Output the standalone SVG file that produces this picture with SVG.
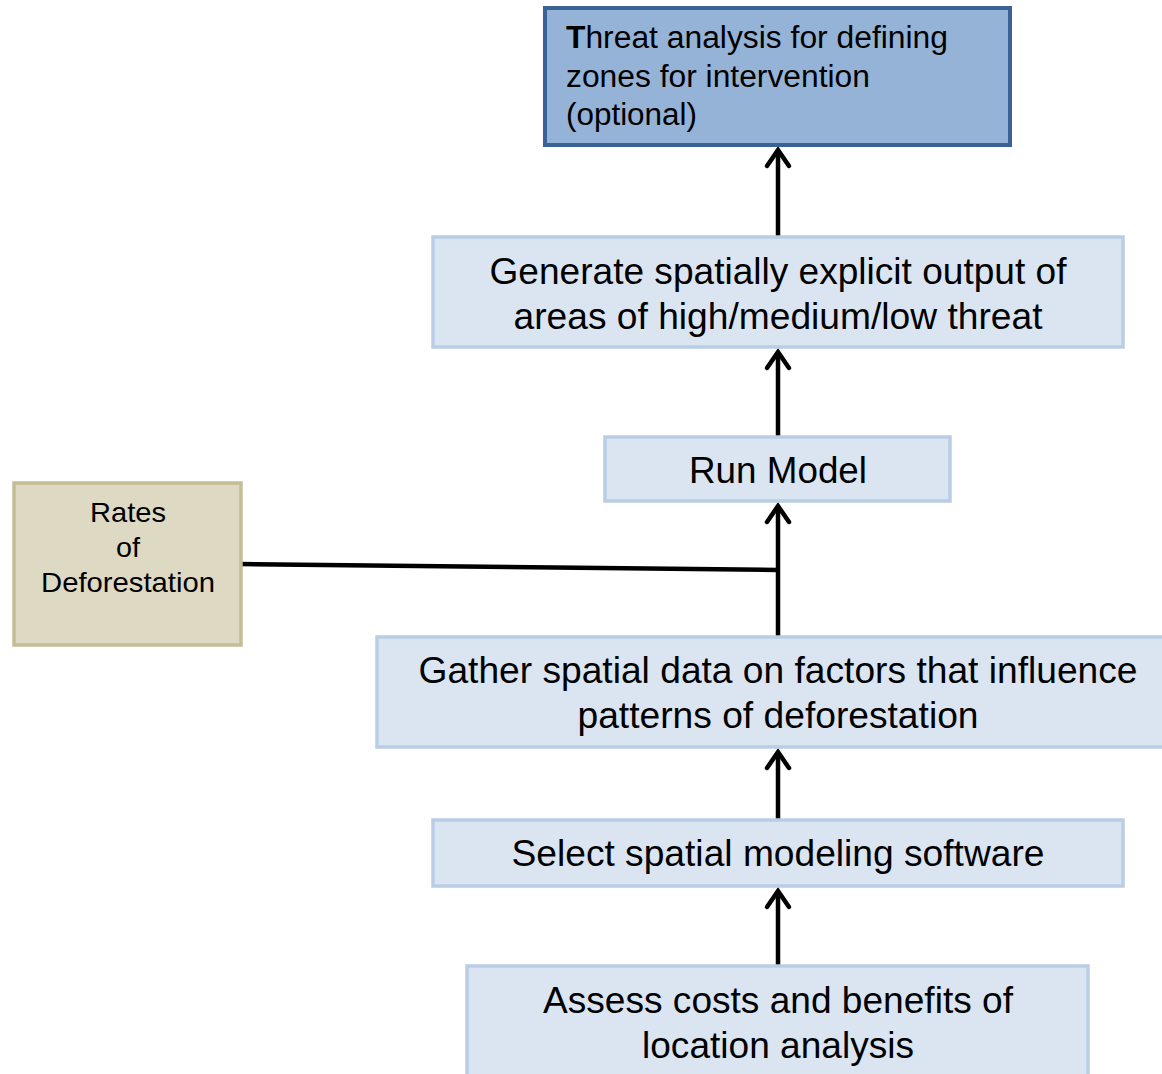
<svg xmlns="http://www.w3.org/2000/svg" width="1162" height="1074" viewBox="0 0 1162 1074">
<defs>
<style>
.box{fill:#dbe5f1;stroke:#b9cde5;stroke-width:3.5}
.top{fill:#95b3d7;stroke:#3a6294;stroke-width:4}
.tan{fill:#ddd9c3;stroke:#c4bd97;stroke-width:3.5}
.t{font-family:"Liberation Sans",Arial,sans-serif;fill:#000}
.big{font-size:36px;text-anchor:middle}
.mid{font-size:31px}
.sm{font-size:28px;text-anchor:middle}
.conn{stroke:#000;stroke-width:4.5;fill:none}
</style>
<marker id="arr" markerUnits="userSpaceOnUse" markerWidth="40" markerHeight="40" viewBox="-20 -20 40 40" refX="0" refY="0" orient="auto">
<path d="M-16,-11 L0,0 L-16,11" fill="none" stroke="#000" stroke-width="4.5" stroke-linecap="round" stroke-linejoin="miter"/>
</marker>
</defs>
<rect width="1162" height="1074" fill="#fff"/>
<g id="connectors">
<line class="conn" x1="778" y1="237" x2="778" y2="150" marker-end="url(#arr)"/>
<line class="conn" x1="778" y1="437" x2="778" y2="352" marker-end="url(#arr)"/>
<line class="conn" x1="778" y1="637" x2="778" y2="506" marker-end="url(#arr)"/>
<line class="conn" x1="778" y1="820" x2="778" y2="752" marker-end="url(#arr)"/>
<line class="conn" x1="778" y1="966" x2="778" y2="891" marker-end="url(#arr)"/>
<line class="conn" x1="241" y1="564" x2="778" y2="570"/>
</g>
<g id="threat">
<rect class="top" x="545" y="8" width="465" height="137"/>
<text class="t mid" x="566" y="48" textLength="382" lengthAdjust="spacingAndGlyphs"><tspan font-weight="bold">T</tspan>hreat analysis for defining</text>
<text class="t mid" x="566" y="87" textLength="304" lengthAdjust="spacingAndGlyphs">zones for intervention</text>
<text class="t mid" x="566" y="125" textLength="131" lengthAdjust="spacingAndGlyphs">(optional)</text>
</g>
<g id="generate">
<rect class="box" x="433" y="237" width="690" height="110"/>
<text class="t big" x="778" y="284" textLength="577" lengthAdjust="spacingAndGlyphs">Generate spatially explicit output of</text>
<text class="t big" x="778" y="329" textLength="529" lengthAdjust="spacingAndGlyphs">areas of high/medium/low threat</text>
</g>
<g id="run">
<rect class="box" x="605" y="437" width="345" height="64"/>
<text class="t big" x="778" y="483" textLength="178" lengthAdjust="spacingAndGlyphs">Run Model</text>
</g>
<g id="rates">
<rect class="tan" x="14" y="483" width="227" height="162"/>
<text class="t sm" x="128" y="522" textLength="76" lengthAdjust="spacingAndGlyphs">Rates</text>
<text class="t sm" x="128" y="557" textLength="24" lengthAdjust="spacingAndGlyphs">of</text>
<text class="t sm" x="128" y="592" textLength="174" lengthAdjust="spacingAndGlyphs">Deforestation</text>
</g>
<g id="gather">
<rect class="box" x="377" y="637" width="800" height="110"/>
<text class="t big" x="778" y="683" textLength="719" lengthAdjust="spacingAndGlyphs">Gather spatial data on factors that influence</text>
<text class="t big" x="778" y="728" textLength="401" lengthAdjust="spacingAndGlyphs">patterns of deforestation</text>
</g>
<g id="select">
<rect class="box" x="433" y="820" width="690" height="66"/>
<text class="t big" x="778" y="866" textLength="533" lengthAdjust="spacingAndGlyphs">Select spatial modeling software</text>
</g>
<g id="assess">
<rect class="box" x="467" y="966" width="621" height="120"/>
<text class="t big" x="778" y="1013" textLength="470" lengthAdjust="spacingAndGlyphs">Assess costs and benefits of</text>
<text class="t big" x="778" y="1058" textLength="272" lengthAdjust="spacingAndGlyphs">location analysis</text>
</g>
</svg>
